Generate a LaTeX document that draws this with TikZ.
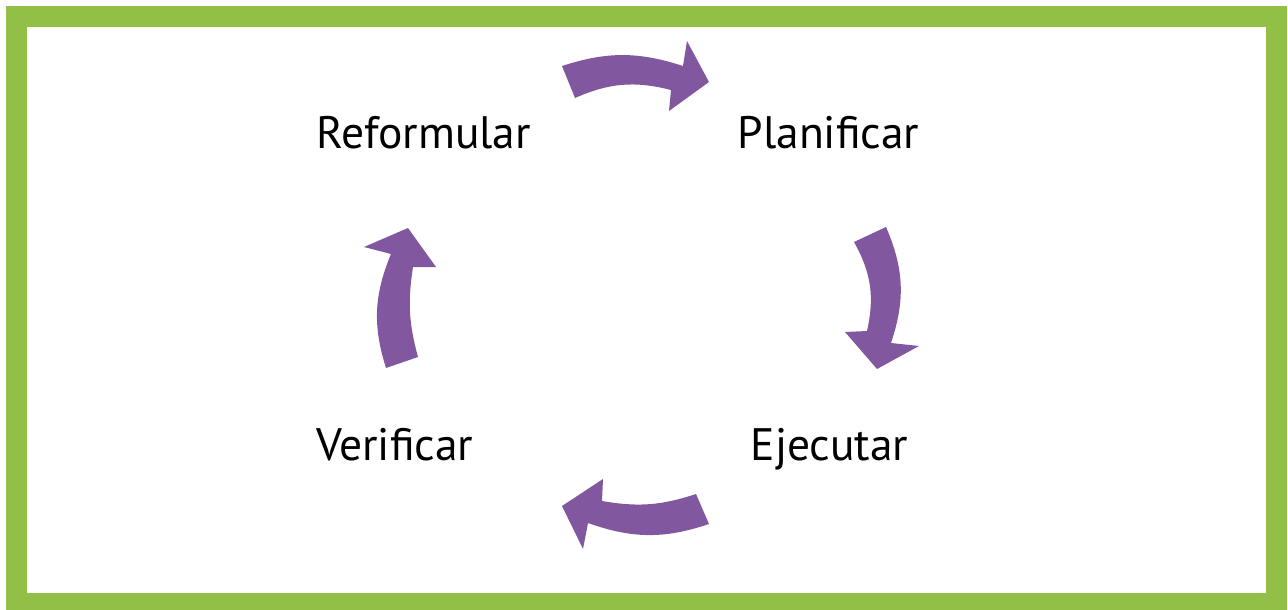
\documentclass[tikz,border=0pt]{standalone}
\usepackage{fontspec}
\setmainfont{PT Sans}
\usetikzlibrary{positioning}
\definecolor{framegreen}{RGB}{146,192,70}
\definecolor{cyclepurple}{RGB}{129,88,160}

\begin{document}
\begin{tikzpicture}[x=1pt,y=-1pt,
    stagelabel/.style={inner sep=0pt,font=\fontsize{45.5}{55}\selectfont},
    cyclearrow/.style={fill=cyclepurple}]
            \useasboundingbox (0,0) rectangle (1288,610);
            \draw[framegreen,line width=21pt] (16.5,16.5) rectangle (1276.5,603.5);

            % stages of the cycle
            \node[stagelabel,anchor=base west] (reformular) at (316,148) {Reformular};
            \node[stagelabel,anchor=base] (planificar) at (828.5,148) {Planificar};
            \node[stagelabel,anchor=base] (ejecutar) at (829.5,460) {Ejecutar};
            \node[stagelabel,anchor=base west] (verificar) at (316,460) {Verificar};

            % block arrows between the stages
            \fill[cyclearrow] (562,66) to[bend left=18] (683,66) -- (687,41) -- (709,82)
                -- (669,111) -- (671,90) to[bend right=19] (575,98) -- cycle;
            \fill[cyclearrow] (886,227) to[bend left=21] (891,343) -- (919,346) -- (877,369)
                -- (845,332) -- (867,331) to[bend right=21] (854,242) -- cycle;
            \fill[cyclearrow] (709,524) to[bend left=19] (588,523) -- (583,549) -- (562,506)
                -- (603,479) -- (602,501) to[bend right=14] (696,494) -- cycle;
            \fill[cyclearrow] (386,368) to[bend left=20] (391,254) -- (364,247) -- (408,228)
                -- (436,267) -- (413,267) to[bend right=12] (418,357) -- cycle;
\end{tikzpicture}
\end{document}
